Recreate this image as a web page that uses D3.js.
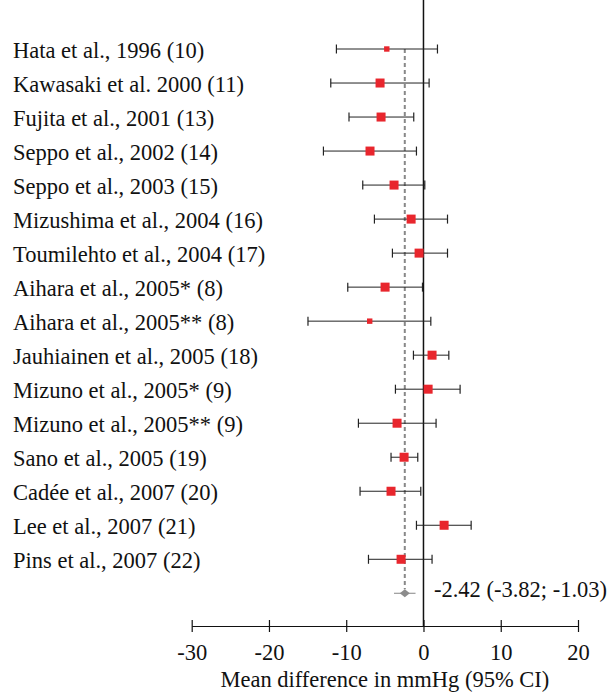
<!DOCTYPE html>
<html>
<head>
<meta charset="utf-8">
<script src="https://cdn.jsdelivr.net/npm/d3@7"></script>
<style>
  body { margin: 0; background: #fff; }
  text { font-family: "Liberation Serif", "Times New Roman", serif; }
</style>
</head>
<body>
<svg id="chart"></svg>
<script>
const studies = [
    "Hata et al., 1996 (10)",
    "Kawasaki et al. 2000 (11)",
    "Fujita et al., 2001 (13)",
    "Seppo et al., 2002 (14)",
    "Seppo et al., 2003 (15)",
    "Mizushima et al., 2004 (16)",
    "Toumilehto et al., 2004 (17)",
    "Aihara et al., 2005* (8)",
    "Aihara et al., 2005** (8)",
    "Jauhiainen et al., 2005 (18)",
    "Mizuno et al., 2005* (9)",
    "Mizuno et al., 2005** (9)",
    "Sano et al., 2005 (19)",
    "Cadée et al., 2007 (20)",
    "Lee et al., 2007 (21)",
    "Pins et al., 2007 (22)"
];
const means = [-4.75, -5.62, -5.49, -6.92, -3.81, -1.60, -0.57, -4.97, -6.96, 1.11, 0.60, -3.42, -2.51, -4.20, 2.67, -2.90];
const lower = [-11.27, -12.0, -9.64, -12.95, -7.86, -6.35, -4.02, -9.80, -14.95, -1.30, -3.63, -8.42, -4.20, -8.21, -0.91, -7.12];
const upper = [1.81, 0.73, -1.26, -0.91, 0.17, 3.11, 3.11, -0.13, 0.95, 3.28, 4.74, 1.63, -0.74, -0.35, 6.17, 1.11];
const weights = [0.6, 1, 1, 1, 1, 1, 1, 1, 0.6, 1, 1, 1, 1, 1, 1, 1];

const pooled = { mean: -2.42, lower: -3.82, upper: -1.03 };
const pooledLabel = "-2.42 (-3.82; -1.03)";
const xTicks = [-30, -20, -10, 0, 10, 20];
const xTitle = "Mean difference in mmHg (95% CI)";

const width = 612, height = 692;
const fs = 22.5;
const svg = d3.select("#chart").attr("width", width).attr("height", height);

const x = d3.scaleLinear().domain([-30, 20]).range([191.7, 578]);
const rows = studies.concat(["pooled"]);
const y = d3.scalePoint().domain(d3.range(rows.length)).range([49, 593.3]);

const axisY = 626;

// zero line
svg.append("line")
    .attr("x1", x(0)).attr("x2", x(0))
    .attr("y1", 0).attr("y2", axisY)
    .attr("stroke", "#111").attr("stroke-width", 1.5);

// pooled estimate dashed line
svg.append("line")
    .attr("x1", x(pooled.mean)).attr("x2", x(pooled.mean))
    .attr("y1", y(0)).attr("y2", y(16) - 4)
    .attr("stroke", "#888").attr("stroke-width", 2)
    .attr("stroke-dasharray", "4,3");

// labels
svg.selectAll("text.study")
    .data(studies)
    .join("text")
    .attr("class", "study")
    .attr("x", 13)
    .attr("y", (d, i) => y(i) + 9)
    .attr("font-size", fs)
    .attr("fill", "#111")
    .text(d => d);

// CI lines
const g = svg.append("g");
studies.forEach((s, i) => {
    const yy = y(i);
    g.append("line")
        .attr("x1", x(lower[i])).attr("x2", x(upper[i]))
        .attr("y1", yy).attr("y2", yy)
        .attr("stroke", "#222").attr("stroke-width", 1);
    [lower[i], upper[i]].forEach(v => {
        g.append("line")
            .attr("x1", x(v)).attr("x2", x(v))
            .attr("y1", yy - 4.5).attr("y2", yy + 4.5)
            .attr("stroke", "#222").attr("stroke-width", 1.2);
    });
    const sz = 9 * weights[i];
    g.append("rect")
        .attr("x", x(means[i]) - sz / 2)
        .attr("y", yy - sz / 2)
        .attr("width", sz).attr("height", sz)
        .attr("fill", "#e8262d");
});

// pooled diamond
const py = y(16);
svg.append("line")
    .attr("x1", x(pooled.lower)).attr("x2", x(pooled.upper))
    .attr("y1", py).attr("y2", py)
    .attr("stroke", "#999").attr("stroke-width", 1.2);
const cx = x(pooled.mean);
svg.append("path")
    .attr("d", `M${cx - 5},${py} L${cx},${py - 4} L${cx + 5},${py} L${cx},${py + 4} Z`)
    .attr("fill", "#8c8c8c");
svg.append("text")
    .attr("x", 434)
    .attr("y", 597)
    .attr("font-size", fs)
    .attr("fill", "#111")
    .text(pooledLabel);

// x axis
const axis = svg.append("g")
    .attr("transform", `translate(0,${axisY})`)
    .call(d3.axisBottom(x).tickValues(xTicks).tickSize(0).tickPadding(16).tickFormat(d => String(d)));
axis.select(".domain").attr("stroke", "#111").attr("stroke-width", 1.2);
axis.selectAll(".tick line").remove();
axis.selectAll(".tick").append("line")
    .attr("y1", -6).attr("y2", 6)
    .attr("stroke", "#111").attr("stroke-width", 1.2);
axis.selectAll(".tick text")
    .attr("dy", null)
    .attr("y", 34)
    .attr("font-family", "Liberation Serif, serif")
    .attr("font-size", fs)
    .attr("fill", "#111");

svg.append("text")
    .attr("x", (x(-30) + x(20)) / 2)
    .attr("y", 687)
    .attr("text-anchor", "middle")
    .attr("font-size", fs)
    .attr("fill", "#111")
    .text(xTitle);
</script>
</body>
</html>
